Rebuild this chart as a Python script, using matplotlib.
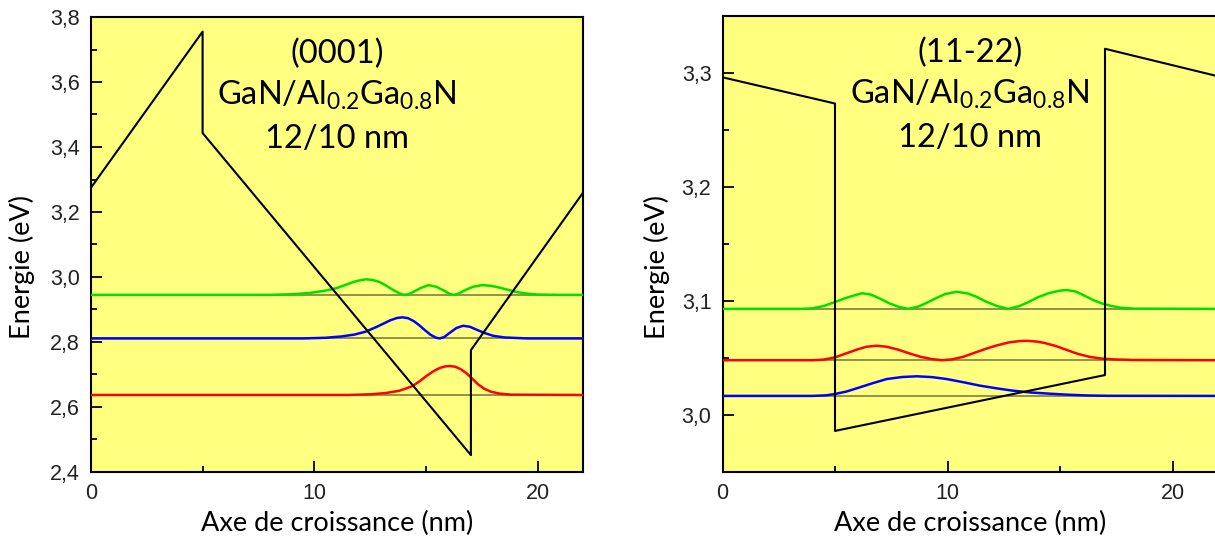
import matplotlib
matplotlib.use('Agg')
import matplotlib.pyplot as plt
from matplotlib.ticker import MultipleLocator, FuncFormatter

# (0001) polar well: conduction band profile and the three levels
band_x_c = [0, 5, 5, 17, 17, 22]
band_e_c = [3.274, 3.755, 3.443, 2.452, 2.775, 3.258]

levels_c = {'green': 2.945, 'blue': 2.811, 'red': 2.637}

green_x_c = [0, 8.0, 9.0, 9.8, 10.5, 11.0, 11.4, 11.8, 12.0, 12.3, 12.6, 12.9, 13.2, 13.5, 13.8,
             14.0, 14.2, 14.45, 14.75, 15.1, 15.45, 15.8, 16.05, 16.25, 16.45, 16.75, 17.1, 17.5,
             17.9, 18.3, 18.7, 19.1, 19.5, 20.0, 21.0, 22]
green_e_c = [2.945, 2.945, 2.947, 2.951, 2.958, 2.966, 2.976, 2.986, 2.989, 2.993, 2.991, 2.985,
             2.974, 2.961, 2.950, 2.945, 2.947, 2.955, 2.966, 2.975, 2.970, 2.958, 2.948, 2.945,
             2.949, 2.960, 2.970, 2.975, 2.973, 2.967, 2.960, 2.953, 2.949, 2.946, 2.945, 2.945]

blue_x_c = [0, 9.5, 10.5, 11.2, 11.8, 12.3, 12.8, 13.1, 13.4, 13.7, 13.95, 14.2, 14.45, 14.7, 14.95,
            15.2, 15.45, 15.6, 15.8, 16.05, 16.35, 16.65, 16.95, 17.25, 17.6, 18.0, 18.5, 19.5, 22]
blue_e_c = [2.811, 2.811, 2.813, 2.817, 2.823, 2.832, 2.847, 2.857, 2.867, 2.874, 2.876, 2.873,
            2.864, 2.851, 2.836, 2.822, 2.813, 2.811, 2.815, 2.828, 2.843, 2.850, 2.847, 2.838,
            2.828, 2.819, 2.814, 2.811, 2.811]

red_x_c = [0, 11.5, 12.5, 13.2, 13.8, 14.1, 14.4, 14.7, 15.0, 15.3, 15.6, 15.85, 16.05, 16.3, 16.55,
           16.8, 17.05, 17.3, 17.6, 17.9, 18.3, 18.8, 22]
red_e_c = [2.637, 2.637, 2.639, 2.643, 2.650, 2.657, 2.665, 2.679, 2.695, 2.709, 2.720, 2.725,
           2.726, 2.724, 2.716, 2.704, 2.688, 2.671, 2.656, 2.647, 2.641, 2.638, 2.637]

# (11-22) semipolar well
band_x_s = [0, 5, 5, 17, 17, 22]
band_e_s = [3.296, 3.273, 2.986, 3.035, 3.321, 3.297]

levels_s = {'green': 3.093, 'red': 3.048, 'blue': 3.0167}

green_x_s = [0, 3.5, 4.0, 4.5, 5.0, 5.4, 5.8, 6.2, 6.6, 7.0, 7.4, 7.8, 8.25, 8.7, 9.1, 9.5, 9.9,
             10.4, 10.9, 11.3, 11.7, 12.2, 12.7, 13.2, 13.6, 14.0, 14.5, 15.0, 15.3, 15.7, 16.1,
             16.5, 16.9, 17.3, 17.7, 18.3, 22]
green_e_s = [3.093, 3.093, 3.0935, 3.0955, 3.099, 3.102, 3.1045, 3.1067, 3.1055, 3.102, 3.098,
             3.095, 3.093, 3.095, 3.0985, 3.1025, 3.106, 3.108, 3.1065, 3.1035, 3.0995, 3.0955,
             3.093, 3.0955, 3.099, 3.103, 3.1068, 3.109, 3.1095, 3.1082, 3.1045, 3.1005, 3.0975,
             3.0955, 3.094, 3.0932, 3.093]

red_x_s = [0, 4.0, 4.5, 5.0, 5.5, 6.0, 6.4, 6.85, 7.3, 7.8, 8.3, 8.8, 9.3, 9.75, 10.2, 10.7, 11.2,
           11.7, 12.2, 12.7, 13.2, 13.5, 13.9, 14.3, 14.8, 15.3, 15.8, 16.3, 16.8, 17.4, 18.2, 22]
red_e_s = [3.048, 3.048, 3.0485, 3.0505, 3.054, 3.0575, 3.0598, 3.0607, 3.0598, 3.0573, 3.054,
           3.051, 3.049, 3.048, 3.0487, 3.051, 3.0545, 3.058, 3.061, 3.0635, 3.0648, 3.065,
           3.0645, 3.0632, 3.0605, 3.057, 3.0535, 3.051, 3.0495, 3.0487, 3.0482, 3.048]

blue_x_s = [0, 4.0, 4.6, 5.0, 5.5, 6.1, 6.7, 7.3, 8.0, 8.65, 9.3, 9.96, 10.7, 11.44, 12.2, 12.9,
            13.7, 14.5, 15.3, 16.2, 17.1, 22]
blue_e_s = [3.0167, 3.0167, 3.0172, 3.0184, 3.0205, 3.0242, 3.028, 3.0315, 3.0333, 3.0339, 3.0332,
            3.0315, 3.0287, 3.0257, 3.0233, 3.0213, 3.0197, 3.0187, 3.0178, 3.0171, 3.0168, 3.0167]

titles = ['(0001)', '(11-22)']

col = {'green': '#00e000', 'blue': '#0000ff', 'red': '#ff0000'}
bg = '#ffff80'


def comma(v, pos):
    return f'{v:.1f}'.replace('.', ',')


def setup(ax, ylo, yhi, ymaj, ymin, title, ylab_x):
    ax.set_facecolor(bg)
    ax.set_xlim(0, 22)
    ax.set_ylim(ylo, yhi)
    ax.xaxis.set_major_locator(MultipleLocator(10))
    ax.xaxis.set_minor_locator(MultipleLocator(5))
    ax.yaxis.set_major_locator(MultipleLocator(ymaj))
    ax.yaxis.set_minor_locator(MultipleLocator(ymin))
    ax.yaxis.set_major_formatter(FuncFormatter(comma))
    ax.xaxis.set_major_formatter(FuncFormatter(lambda v, p: f'{v:.0f}'))
    ax.tick_params(which='both', direction='in', top=False, right=False, width=1.3, color='k')
    ax.tick_params(which='major', length=8, labelsize=15.5, pad=8, labelcolor='#222222')
    ax.tick_params(which='minor', length=4.5)
    for lab in ax.get_xticklabels() + ax.get_yticklabels():
        lab.set_family('Liberation Sans')
    for s in ax.spines.values():
        s.set_linewidth(1.5)
    ax.set_xlabel('Axe de croissance (nm)', family='Lato', fontsize=19.5, labelpad=5)
    ax.set_ylabel('Energie (eV)', family='Lato', fontsize=19.5)
    ax.yaxis.set_label_coords(ylab_x, 0.45)
    ax.text(0.5, 0.899, title, transform=ax.transAxes, ha='center', va='baseline',
            family='Lato', fontsize=23.5)
    ax.text(0.5, 0.807, r'GaN/Al$_\mathregular{0.2}$Ga$_\mathregular{0.8}$N',
            transform=ax.transAxes, ha='center', va='baseline', family='Lato', fontsize=23.5)
    ax.text(0.5, 0.712, '12/10 nm', transform=ax.transAxes, ha='center', va='baseline',
            family='Lato', fontsize=23.5)


plt.rcParams['mathtext.default'] = 'regular'
fig = plt.figure(figsize=(12.15, 5.41), dpi=100)
ax1 = fig.add_axes([90.8 / 1215, 1 - 472 / 541, (582.7 - 90.8) / 1215, (472 - 17) / 541])
ax2 = fig.add_axes([722.5 / 1215, 1 - 472 / 541, 495 / 1215, (472 - 15.7) / 541])

setup(ax1, 2.4, 3.8, 0.2, 0.1, titles[0], -0.113)
setup(ax2, 2.95, 3.35, 0.1, 0.05, titles[1], -0.106)

for ax, levels in [(ax1, levels_c), (ax2, levels_s)]:
    for name, e in levels.items():
        ax.axhline(e, color='k', alpha=0.55, lw=1.1, zorder=2)

kw = dict(lw=1.8, zorder=3, solid_joinstyle='round')
ax1.plot(green_x_c, green_e_c, color=col['green'], **kw)
ax1.plot(blue_x_c, blue_e_c, color=col['blue'], **kw)
ax1.plot(red_x_c, red_e_c, color=col['red'], **kw)
ax1.plot(band_x_c, band_e_c, color='k', lw=1.5, zorder=4)

ax2.plot(green_x_s, green_e_s, color=col['green'], **kw)
ax2.plot(red_x_s, red_e_s, color=col['red'], **kw)
ax2.plot(blue_x_s, blue_e_s, color=col['blue'], **kw)
ax2.plot(band_x_s, band_e_s, color='k', lw=1.5, zorder=4)

fig.savefig('out.png', dpi=100)
